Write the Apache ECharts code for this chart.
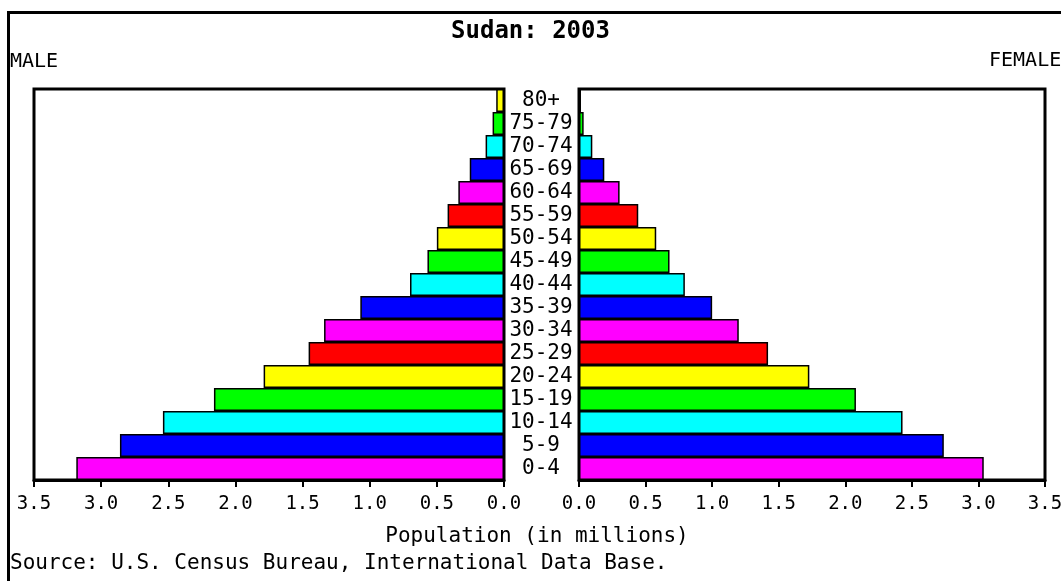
<!DOCTYPE html>
<html>
<head>
<meta charset="utf-8">
<script src="https://cdn.jsdelivr.net/npm/echarts@6/dist/echarts.min.js"></script>
<style>
html,body{margin:0;padding:0;background:#fff;}
#chart{width:1061px;height:581px;}
</style>
</head>
<body>
<div id="chart"></div>
<script>
var ageGroups = ['0-4','5-9','10-14','15-19','20-24','25-29','30-34','35-39','40-44','45-49','50-54','55-59','60-64','65-69','70-74','75-79','80+'];
var maleValues = [3.185, 2.86, 2.54, 2.16, 1.79, 1.455, 1.34, 1.07, 0.70, 0.57, 0.50, 0.42, 0.34, 0.255, 0.137, 0.085, 0.058];
var femaleValues = [3.04, 2.74, 2.43, 2.08, 1.73, 1.42, 1.20, 1.00, 0.795, 0.68, 0.58, 0.445, 0.305, 0.19, 0.10, 0.035, 0.015];
var barColors = ['#FF00FF','#0000FF','#00FFFF','#00FF00','#FFFF00','#FF0000'];
var axisMin = 0, axisMax = 3.5, axisStep = 0.5;
var titleText = 'Sudan: 2003';
var axisTitle = 'Population (in millions)';
var sourceText = 'Source: U.S. Census Bureau, International Data Base.';

var FONT = '"DejaVu Sans Mono", "Liberation Mono", monospace';
var chart = echarts.init(document.getElementById('chart'), null, {renderer:'canvas'});

function xAxisFor(gridIndex, inverse){
  return {
    type:'value', gridIndex:gridIndex, min:axisMin, max:axisMax, interval:axisStep, inverse:inverse,
    axisLine:{show:true, lineStyle:{color:'#000', width:3}},
    axisTick:{show:true, length:7, lineStyle:{color:'#000', width:2}},
    splitLine:{show:false},
    axisLabel:{color:'#000', fontFamily:FONT, fontSize:19, margin:15, showMinLabel:true, showMaxLabel:true,
      formatter:function(v){return v.toFixed(1);}}
  };
}
function barSeries(idx, values){
  return {
    type:'bar', xAxisIndex:idx, yAxisIndex:idx, data:values,
    barCategoryGap:'0%', animation:false,
    itemStyle:{
      color:function(p){return barColors[p.dataIndex % barColors.length];},
      borderColor:'#000', borderWidth:1.5
    }
  };
}

chart.setOption({
  backgroundColor:'#fff',
  animation:false,
  graphic:[
    {type:'rect', shape:{x:8.5, y:12.5, width:1100, height:620},
      style:{fill:'none', stroke:'#000', lineWidth:3}, silent:true},
    {type:'text', left:10, top:52, style:{text:'MALE', font:'20px '+FONT, fill:'#000'}},
    {type:'text', left:989, top:51, style:{text:'FEMALE', font:'20px '+FONT, fill:'#000'}},
    {type:'text', x:537, y:537, style:{text:axisTitle, font:'21px '+FONT, fill:'#000', align:'center', verticalAlign:'middle'}},
    {type:'text', x:10, y:564, style:{text:sourceText, font:'21px '+FONT, fill:'#000', verticalAlign:'middle'}}
  ],
  title:{text:titleText, left:'center', top:15,
    textStyle:{fontFamily:FONT, fontSize:24, fontWeight:'bold', color:'#000'}},
  grid:[
    {left:34, top:89, width:470, height:391, show:true, borderColor:'#000', borderWidth:3, containLabel:false, outerBoundsMode:'none'},
    {left:579, top:89, width:466, height:391, show:true, borderColor:'#000', borderWidth:3, containLabel:false, outerBoundsMode:'none'}
  ],
  xAxis:[xAxisFor(0, true), xAxisFor(1, false)],
  yAxis:[
    {type:'category', gridIndex:0, data:ageGroups, axisLine:{show:false}, axisTick:{show:false}, axisLabel:{show:false}},
    {type:'category', gridIndex:1, data:ageGroups, axisLine:{show:false}, axisTick:{show:false},
      axisLabel:{show:true, interval:0, color:'#000', fontFamily:FONT, fontSize:21, align:'center', margin:38}}
  ],
  series:[barSeries(0, maleValues), barSeries(1, femaleValues)]
});
</script>
</body>
</html>
